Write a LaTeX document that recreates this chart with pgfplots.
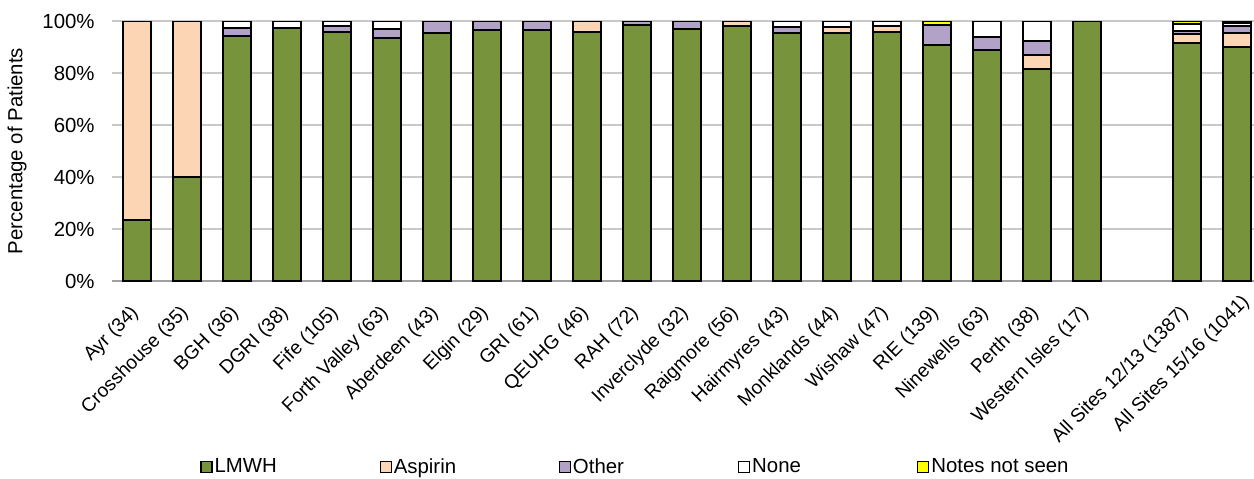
\documentclass[border=0pt]{standalone}
\usepackage{pgfplots}
\pgfplotsset{compat=1.18}
\usepackage{fontspec}
\setmainfont{Liberation Sans}

\definecolor{lmwh}{HTML}{77933C}
\definecolor{aspirin}{HTML}{FCD5B5}
\definecolor{other}{HTML}{B3A2C7}
\definecolor{nonec}{HTML}{FFFFFF}
\definecolor{notseen}{HTML}{FFFF00}
\definecolor{gridc}{HTML}{C8C8C8}
\definecolor{axisc}{HTML}{A0A0A0}

\newcommand{\chartfont}{\fontsize{10.2bp}{12bp}\selectfont}
\newcommand{\catfont}{\fontsize{9.6bp}{11.5bp}\selectfont}

\begin{document}
\begin{tikzpicture}
\begin{axis}[
  scale only axis,
  width=571bp, height=130bp,
  xmin=-0.5, xmax=22.34,
  ymin=0, ymax=100,
  ybar stacked,
  bar width=0.56,
  axis x line*=bottom,
  axis y line*=left,
  x axis line style={draw=axisc, line width=1bp, -},
  y axis line style={draw=none},
  xtick={0,...,19,21},
  xticklabels={Ayr (34),Crosshouse (35),BGH (36),DGRI (38),Fife (105),Forth Valley (63),Aberdeen (43),Elgin (29),GRI (61),QEUHG (46),RAH (72),Inverclyde (32),Raigmore (56),Hairmyres (43),Monklands (44),Wishaw (47),RIE (139),Ninewells (63),Perth (38),Western Isles (17),All Sites 12/13 (1387)},
  extra x ticks={22},
  extra x tick labels={All Sites 15/16 (1041)},
  extra x tick style={xticklabel style={xshift=7.78bp, yshift=0bp}},
  xtick style={draw=none},
  ytick={0,20,...,100},
  yticklabels={0\%,20\%,40\%,60\%,80\%,100\%},
  ytick style={draw=none},
  ymajorgrids,
  major grid style={draw=gridc, line width=0.6bp},
  yticklabel style={font=\chartfont, anchor=east, inner sep=0pt, xshift=-8.5bp},
  xticklabel style={font=\catfont, inner sep=0pt, xshift=-3.9bp, yshift=-11.2bp, rotate=45, anchor=north east},
  ylabel={Percentage of Patients},
  ylabel style={font=\chartfont, at={(axis description cs:-0.0832,0.5)}, anchor=center},
  every axis plot/.append style={draw=black, line width=1bp},
  legend columns=5,
  legend style={draw=none, fill=none, font=\chartfont, at={(axis cs:1.26,-71.65)}, anchor=west,
    inner sep=0pt, column sep=0pt, nodes={inner sep=0pt},
    /tikz/every odd column/.append style={column sep=1bp}},
  legend image code/.code={\draw[#1, draw=black, line width=0.6bp] (0bp,-2.75bp) rectangle (5.5bp,2.75bp);},
]
% LMWH
\addplot[fill=lmwh] coordinates {
 (0,23.5) (1,40.0) (2,94.4) (3,97.4) (4,95.8) (5,93.6) (6,95.3) (7,96.6) (8,96.7) (9,95.7)
 (10,98.6) (11,96.9) (12,98.2) (13,95.4) (14,95.4) (15,95.8) (16,90.6) (17,88.9) (18,81.6) (19,100)
 (21,91.4) (22,90.1)};
% Aspirin
\addplot[fill=aspirin] coordinates {
 (0,76.5) (1,60.0) (2,0) (3,0) (4,0) (5,0) (6,0) (7,0) (8,0) (9,4.3)
 (10,0) (11,0) (12,1.8) (13,0) (14,2.3) (15,2.1) (16,0) (17,0) (18,5.3) (19,0)
 (21,3.5) (22,5.2)};
% Other
\addplot[fill=other] coordinates {
 (0,0) (1,0) (2,2.8) (3,0) (4,2.3) (5,3.2) (6,4.7) (7,3.4) (8,3.3) (9,0)
 (10,1.4) (11,3.1) (12,0) (13,2.3) (14,0) (15,0) (16,7.9) (17,4.8) (18,5.3) (19,0)
 (21,1.4) (22,2.6)};
% None
\addplot[fill=nonec] coordinates {
 (0,0) (1,0) (2,2.8) (3,2.6) (4,1.9) (5,3.2) (6,0) (7,0) (8,0) (9,0)
 (10,0) (11,0) (12,0) (13,2.3) (14,2.3) (15,2.1) (16,0) (17,6.3) (18,7.8) (19,0)
 (21,2.5) (22,1.5)};
% Notes not seen
\addplot[fill=notseen] coordinates {
 (0,0) (1,0) (2,0) (3,0) (4,0) (5,0) (6,0) (7,0) (8,0) (9,0)
 (10,0) (11,0) (12,0) (13,0) (14,0) (15,0) (16,1.5) (17,0) (18,0) (19,0)
 (21,1.2) (22,0.6)};
\legend{\makebox[82.5bp][l]{LMWH},\makebox[82.5bp][l]{Aspirin},\makebox[82.5bp][l]{Other},\makebox[82.5bp][l]{None},Notes not seen}
\coordinate (o) at (rel axis cs:0,0);
\end{axis}
\pgfresetboundingbox
\path[use as bounding box] ([xshift=-56bp,yshift=140.5bp]o) rectangle ([xshift=571bp,yshift=-99bp]o);
\end{tikzpicture}
\end{document}
